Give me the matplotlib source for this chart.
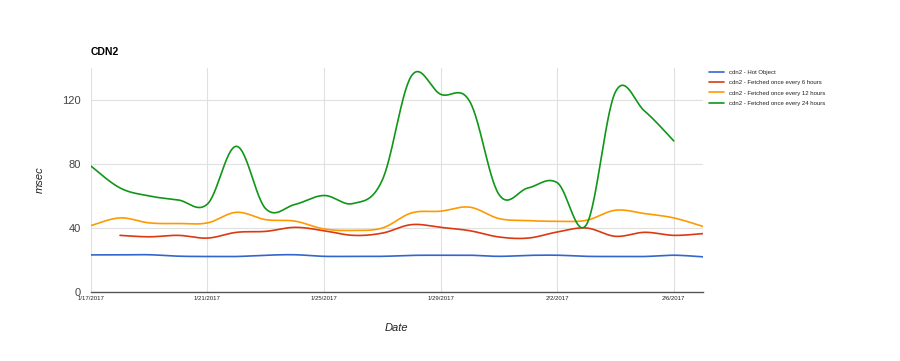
import datetime as dt
import matplotlib
matplotlib.use("Agg")
import matplotlib.pyplot as plt
import matplotlib.dates as mdates
import numpy as np

plt.rcParams["font.family"] = ["Liberation Sans", "DejaVu Sans"]

start = dt.date(2017, 1, 17)
dates = [start + dt.timedelta(days=i) for i in range(22)]  # 1/17 .. 2/7

hot = [23.2, 23.2, 23.3, 22.4, 22.2, 22.2, 23.0, 23.3, 22.3, 22.3, 22.3,
       22.9, 23.0, 23.0, 22.3, 22.9, 23.0, 22.3, 22.2, 22.2, 23.0, 22.0]
every6 = [None, 35.4, 34.5, 35.4, 33.7, 37.3, 37.9, 40.4, 38.3, 35.4, 36.8,
          42.1, 40.4, 38.3, 34.4, 33.7, 37.5, 40.0, 34.8, 37.3, 35.4, 36.5]
every12 = [41.5, 46.3, 43.2, 42.8, 43.2, 49.8, 45.2, 44.3, 39.4, 38.5, 40.0,
           49.4, 50.5, 53.0, 45.9, 44.6, 44.2, 44.8, 51.1, 49.0, 46.3, 41.0]
every24 = [78.7, 65.0, 60.0, 57.5, 55.0, 91.0, 52.0, 54.7, 60.3, 55.3, 70.0,
           135.0, 123.5, 119.0, 61.0, 65.0, 68.3, 42.0, 125.0, 113.0, 94.4, None]

series = [
    ("cdn2 - Hot Object", hot, "#3366cc"),
    ("cdn2 - Fetched once every 6 hours", every6, "#dc3912"),
    ("cdn2 - Fetched once every 12 hours", every12, "#ff9900"),
    ("cdn2 - Fetched once every 24 hours", every24, "#109618"),
]


def smooth(xs, ys, n=30, k=0.35):
    # cubic bezier through the points, like a "function" curve
    xs = np.asarray(xs, float)
    ys = np.asarray(ys, float)
    outx, outy = [], []
    for i in range(len(xs) - 1):
        p0 = (xs[max(i - 1, 0)], ys[max(i - 1, 0)])
        p1 = (xs[i], ys[i])
        p2 = (xs[i + 1], ys[i + 1])
        p3 = (xs[min(i + 2, len(xs) - 1)], ys[min(i + 2, len(xs) - 1)])
        c1 = (p1[0] + (p2[0] - p0[0]) * k / 2, p1[1] + (p2[1] - p0[1]) * k / 2)
        c2 = (p2[0] - (p3[0] - p1[0]) * k / 2, p2[1] - (p3[1] - p1[1]) * k / 2)
        t = np.linspace(0, 1, n, endpoint=False)
        b0 = (1 - t) ** 3
        b1 = 3 * (1 - t) ** 2 * t
        b2 = 3 * (1 - t) * t ** 2
        b3 = t ** 3
        outx.extend(b0 * p1[0] + b1 * c1[0] + b2 * c2[0] + b3 * p2[0])
        outy.extend(b0 * p1[1] + b1 * c1[1] + b2 * c2[1] + b3 * p2[1])
    outx.append(xs[-1])
    outy.append(ys[-1])
    return np.array(outx), np.array(outy)


fig = plt.figure(figsize=(9, 3.61), dpi=100)
ax = fig.add_axes([0.101, 0.191, 0.68, 0.621])

xnum = mdates.date2num(dates)
for label, vals, color in series:
    xs = [x for x, v in zip(xnum, vals) if v is not None]
    ys = [v for v in vals if v is not None]
    sx, sy = smooth(xs, ys)
    ax.plot(sx, sy, color=color, lw=1.2, label=label, solid_capstyle="round")

ax.set_xlim(xnum[0], xnum[-1])
ax.set_ylim(0, 140)
ax.set_yticks([0, 40, 80, 120])
ax.set_xticks(xnum[0:21:4])
ax.xaxis.set_major_formatter(
    matplotlib.ticker.FuncFormatter(lambda v, p: "{d.month}/{d.day}/{d.year}".format(d=mdates.num2date(v))))

ax.grid(True, color="#e0e0e0", lw=0.8)
ax.set_axisbelow(True)
for s in ["top", "right", "left"]:
    ax.spines[s].set_visible(False)
ax.spines["bottom"].set_color("#555555")
ax.spines["bottom"].set_linewidth(1.0)
ax.tick_params(length=0)
ax.tick_params(axis="y", labelsize=8, colors="#444444", pad=7)
ax.tick_params(axis="x", labelsize=4.3, colors="#222222", pad=3)

ax.set_title("CDN2", loc="left", fontsize=7.5, fontweight="bold", pad=9)
ax.set_ylabel("msec", fontsize=8, style="italic", color="#222222", labelpad=13)
ax.set_xlabel("Date", fontsize=8, style="italic", color="#222222", labelpad=16)

ax.legend(loc="upper left", bbox_to_anchor=(1.002, 1.015), frameon=False,
          fontsize=4.3, handlelength=2.4, handletextpad=0.9, labelspacing=0.85,
          labelcolor="#222222")

fig.savefig("out.png", dpi=100)
